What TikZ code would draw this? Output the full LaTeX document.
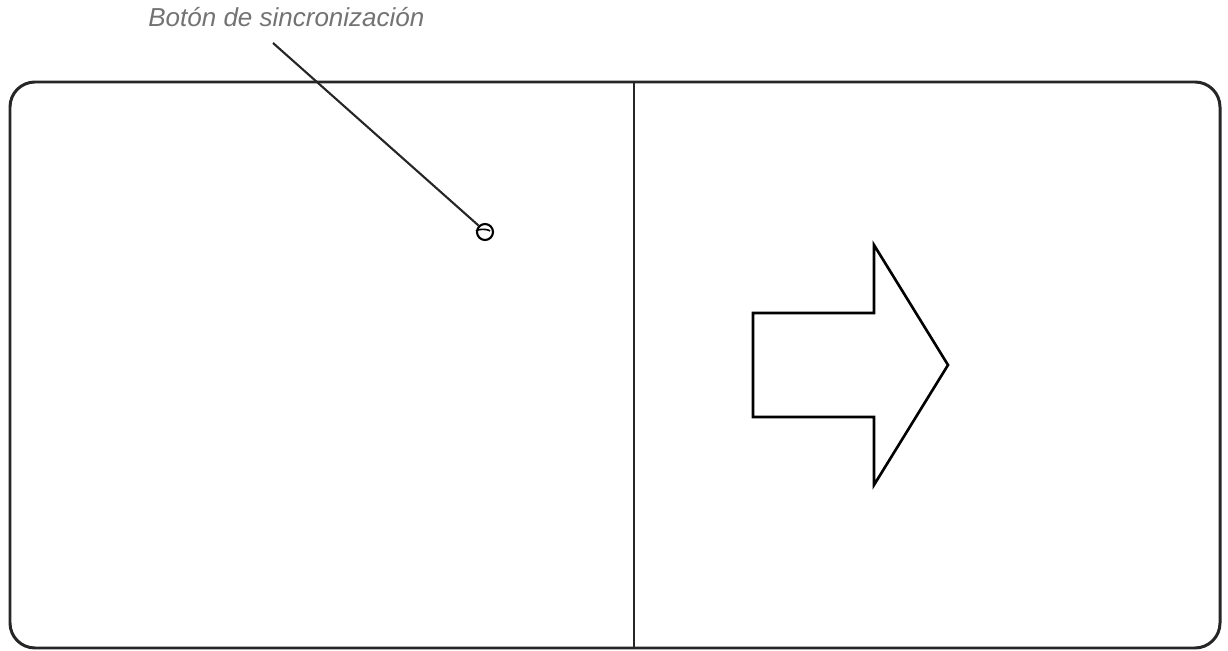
\documentclass[tikz,border=0pt]{standalone}
\usepackage{fontspec}
\setmainfont{Liberation Sans}
\usetikzlibrary{positioning}

\begin{document}
\begin{tikzpicture}[x=0.02cm, y=-0.02cm,
    devicebox/.style={draw=black!85, line width=1.7pt, rounded corners=0.5cm},
    divider/.style={draw=black!85, line width=1.5pt},
    arrowoutline/.style={draw=black, line width=1.5pt, line join=miter},
    leader/.style={draw=black!85, line width=1.2pt},
    callout/.style={font=\itshape\fontsize{14.8}{17}\selectfont, text=black!55, inner sep=0pt, anchor=base west}]
  \useasboundingbox (0,0) rectangle (1228,651);
  % Define housing
  \draw[devicebox] (10,82) rectangle (1220,648);
  \coordinate (divtop) at (634,82);
  \coordinate (divbot) at (634,648);
  \draw[divider] (divtop) -- (divbot);
  % sync button
  \node[circle, draw=black, line width=1.2pt, minimum size=0.32cm, inner sep=0pt] (btn) at (485,232) {};
  \draw[line width=0.9pt] (btn.west) ++(0,-1) arc[start angle=160, end angle=20, x radius=0.15cm, y radius=0.05cm];
  % label and leader
  \node[callout] (lbl) at (148,27) {Botón de sincronización};
  \coordinate (ldstart) at (273,43);
  \draw[leader] (ldstart) -- (btn.north west);
  % direction arrow
  \coordinate (a1) at (753,313);
  \coordinate (a2) at (874,313);
  \coordinate (a3) at (874,245);
  \coordinate (tip) at (948,365);
  \coordinate (a5) at (874,485);
  \coordinate (a6) at (874,417);
  \coordinate (a7) at (753,417);
  \draw[arrowoutline] (a1) -- (a2) -- (a3) -- (tip) -- (a5) -- (a6) -- (a7) -- cycle;
\end{tikzpicture}
\end{document}
